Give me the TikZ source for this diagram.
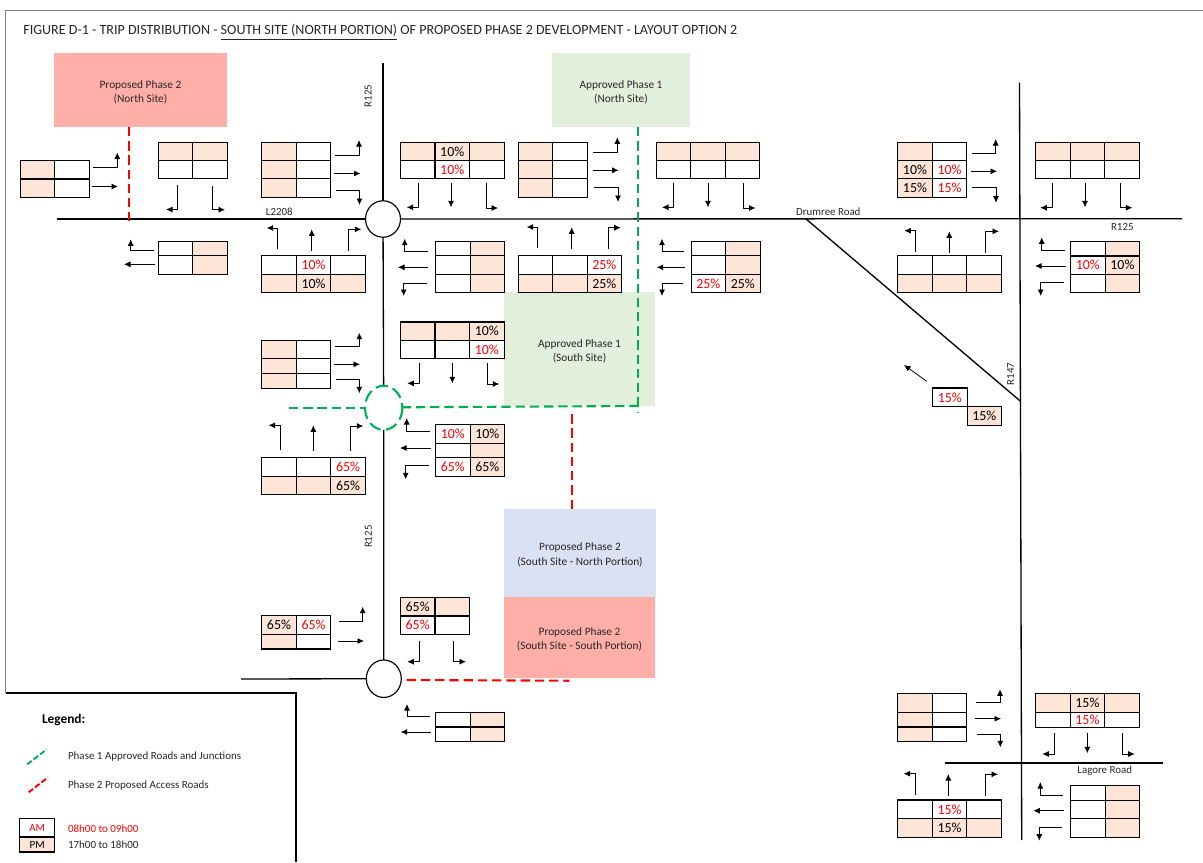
\documentclass[tikz,border=0pt]{standalone}
\usepackage{fontspec}
\setmainfont{Carlito}
\usetikzlibrary{arrows.meta,shapes.geometric}
\definecolor{pmfill}{HTML}{FCE4D6}
\definecolor{sitered}{HTML}{FFAFA8}
\definecolor{sitegreen}{HTML}{E2EFDA}
\definecolor{siteblue}{HTML}{D9E1F2}
\definecolor{greenroad}{HTML}{00B050}
\tikzset{
  am/.style={fill=white,text=red},
  pm/.style={fill=pmfill,text=black},
  tripcell/.style={draw,line width=0.6pt,inner sep=0pt,outer sep=0pt,minimum width=0.69cm,font=\fontsize{7.9}{9}\selectfont},
  sitebox/.style={inner sep=0pt,outer sep=0pt,align=center,text=black!85,font=\fontsize{6.45}{8}\selectfont},
  roadname/.style={inner sep=0pt,text=black!85,font=\fontsize{6.2}{7}\selectfont},
  legendtext/.style={inner sep=0pt,anchor=west,text=black!85,font=\fontsize{6.25}{7}\selectfont},
  road/.style={line width=0.75pt,black},
  junction/.style={draw,ellipse,inner sep=0pt,outer sep=0pt,line width=0.65pt,fill=white},
  arr/.style={line width=0.45pt,-{Latex[length=1.3mm,width=1.2mm]}},
  greenline/.style={line width=1.2pt,greenroad,dash pattern=on 5.3pt off 2.8pt},
  redline/.style={line width=1.2pt,red,dash pattern=on 5.3pt off 2.8pt}
}
% one row of a table: name, left, top, bottom, kind/label list
\newcommand{\triprow}[5]{%
  \foreach \k/\lab [count=\c] in {#5}
    \node[tripcell,\k,minimum height={(#4-#3)*0.02cm}] (#1-\c) at ({#2+(\c-0.5)*34.55},{(#3+#4)/2}) {\lab};
}
% two lines of a site label, set a little low in its box
\newcommand{\sitelines}[2]{\rule{0pt}{6.8pt}#1\\#2}
\begin{document}
\begin{tikzpicture}[x=0.02cm,y=-0.02cm]
\useasboundingbox (0,0) rectangle (1203,862);
\draw[black!50,line width=0.5pt] (1203,10) -- (5.5,10) -- (5.5,693);
\node[anchor=west,inner sep=0pt,text=black!85,font=\fontsize{8}{9}\selectfont] (title) at (23,32.5) {FIGURE D-1 - TRIP DISTRIBUTION - \underline{SOUTH SITE (NORTH PORTION)} OF PROPOSED PHASE 2 DEVELOPMENT - LAYOUT OPTION 2};

% sites
\node[sitebox,fill=sitered,minimum width=3.46cm,minimum height=1.48cm] (siteNorthP2) at (140.5,90) {\sitelines{Proposed Phase 2}{(North Site)}};
\node[sitebox,fill=sitegreen,minimum width=2.76cm,minimum height=1.48cm] (siteNorthP1) at (621,90) {\sitelines{Approved Phase 1}{(North Site)}};
\node[sitebox,fill=sitegreen,minimum width=3.02cm,minimum height=2.27cm] (siteSouthP1) at (579.5,349.2) {\sitelines{Approved Phase 1}{(South Site)}};
\node[sitebox,fill=siteblue,minimum width=3.04cm,minimum height=1.756cm] (siteSouthN) at (580,552.8) {\sitelines{Proposed Phase 2}{(South Site - North Portion)}};
\node[sitebox,fill=sitered,minimum width=3.02cm,minimum height=1.62cm] (siteSouthS) at (579.5,637.2) {\sitelines{Proposed Phase 2}{(South Site - South Portion)}};

% roads
\node[junction,minimum width=0.7cm,minimum height=0.73cm] (jnNorth) at (383,219) {};
\node[minimum width=0.75cm,minimum height=0.88cm,inner sep=0pt,outer sep=0pt,ellipse] (jnMid) at (383.7,407.8) {};
\node[junction,minimum width=0.7cm,minimum height=0.75cm] (jnSouth) at (383.8,678.7) {};
\coordinate (r125top) at (383,63);
\coordinate (l2208end) at (57,219);
\coordinate (drumreeEnd) at (1182,218.7);
\coordinate (southRoadEnd) at (241,679);
\coordinate (diagStart) at (805.7,218.7);
\coordinate (r147top) at (1019.5,82.5);
\coordinate (r147bottom) at (1021.7,840);
\coordinate (diagEnd) at (1020.2,401);
\draw[road] (r125top) -- (jnNorth);
\draw[road] (jnNorth) -- (jnMid);
\draw[road] (jnMid) -- (jnSouth);
\draw[road] (l2208end) -- (jnNorth);
\draw[road] (jnNorth) -- (drumreeEnd);
\draw[road] (southRoadEnd) -- (jnSouth);
\draw[road] (diagStart) -- (diagEnd);
\draw[road] (r147top) -- (r147bottom);
\draw[road] (945,763) -- (1162.7,763);

% access roads
\coordinate (greenWest) at (289,407.7);
\coordinate (greenCorner) at (638.3,406);
\draw[greenline,dash pattern=on 7pt off 3pt] (383.7,407.8) ellipse [x radius=18.7,y radius=22];
\draw[greenline] (greenWest) -- (365,407.7);
\draw[greenline] (401.7,407.3) -- (greenCorner);
\draw[greenline] (siteNorthP1.south -| greenCorner) -- (638.3,412);
\draw[redline] (siteNorthP2.south -| 128.7,0) -- (128.7,220.7);
\draw[redline] (siteSouthN.north -| 571.7,0) -- (571.7,409.5);
\draw[redline] (406.7,680) -- (569.3,680.7);

% tables
\triprow{tA1}{20}{160.7}{179}{pm/,am/}
\triprow{tA2}{20}{179}{197.3}{pm/,am/}
\triprow{tB1}{158.3}{142.3}{160.5}{pm/,pm/}
\triprow{tB2}{158.3}{160.5}{178.7}{am/,am/}
\triprow{tC1}{261.7}{142.3}{160.5}{pm/,am/}
\triprow{tC2}{261.7}{160.5}{178.7}{pm/,am/}
\triprow{tC3}{261.7}{178.7}{197.3}{pm/,am/}
\triprow{tD1}{158.3}{241.7}{255.7}{am/,pm/}
\triprow{tD2}{158.3}{255.7}{274.3}{am/,pm/}
\triprow{tE1}{261.7}{255.7}{274.2}{am/,am/10\%,am/}
\triprow{tE2}{261.7}{274.2}{292.7}{pm/,pm/10\%,pm/}
\triprow{tF1}{400.4}{142.2}{160.5}{pm/,pm/10\%,pm/}
\triprow{tF2}{400.4}{160.5}{178.7}{am/,am/10\%,am/}
\triprow{tG1}{518}{142.3}{160.5}{pm/,am/}
\triprow{tG2}{518}{160.5}{178.7}{pm/,am/}
\triprow{tG3}{518}{178.7}{197.3}{pm/,am/}
\triprow{tH1}{656}{142.2}{160.5}{pm/,pm/,pm/}
\triprow{tH2}{656}{160.5}{178.7}{am/,am/,am/}
\triprow{tI1}{435.5}{241.3}{255.7}{am/,pm/}
\triprow{tI2}{435.5}{255.7}{274.3}{am/,pm/}
\triprow{tI3}{435.5}{274.3}{292.7}{am/,pm/}
\triprow{tJ1}{518}{255.7}{274.2}{am/,am/,am/25\%}
\triprow{tJ2}{518}{274.2}{292.7}{pm/,pm/,pm/25\%}
\triprow{tK1}{691}{241.3}{255.7}{am/,pm/}
\triprow{tK2}{691}{255.7}{274.3}{am/,pm/}
\triprow{tK3}{691}{274.3}{292.7}{am/25\%,pm/25\%}
\triprow{tL1}{261.7}{340.3}{358.7}{pm/,am/}
\triprow{tL2}{261.7}{358.7}{373.3}{pm/,am/}
\triprow{tL3}{261.7}{373.3}{388.3}{pm/,am/}
\triprow{tM1}{400.4}{322}{340.3}{pm/,pm/,pm/10\%}
\triprow{tM2}{400.4}{340.3}{358.7}{am/,am/,am/10\%}
\triprow{tN1}{261.7}{457.7}{476.3}{am/,am/,am/65\%}
\triprow{tN2}{261.7}{476.3}{494.7}{pm/,pm/,pm/65\%}
\triprow{tO1}{435.5}{424.7}{443.3}{am/10\%,pm/10\%}
\triprow{tO2}{435.5}{443.3}{457.7}{am/,pm/}
\triprow{tO3}{435.5}{457.7}{476.3}{am/65\%,pm/65\%}
\triprow{tP1}{261.7}{615.7}{634.3}{pm/65\%,am/65\%}
\triprow{tP2}{261.7}{634.3}{649}{pm/,am/}
\triprow{tQ1}{400.4}{597.3}{616}{pm/65\%,pm/}
\triprow{tQ2}{400.4}{616}{634.3}{am/65\%,am/}
\triprow{tR1}{435.5}{712.3}{727}{am/,pm/}
\triprow{tR2}{435.5}{727}{741.5}{am/,pm/}
\triprow{tS1}{897.7}{142.3}{160.3}{pm/,am/}
\triprow{tS2}{897.7}{160.3}{178.7}{pm/10\%,am/10\%}
\triprow{tS3}{897.7}{178.7}{197.3}{pm/15\%,am/15\%}
\triprow{tT1}{1035.6}{142.2}{160.3}{pm/,pm/,pm/}
\triprow{tT2}{1035.6}{160.3}{178.7}{am/,am/,am/}
\triprow{tU1}{897.7}{255.7}{274.2}{am/,am/,am/}
\triprow{tU2}{897.7}{274.2}{292.4}{pm/,pm/,pm/}
\triprow{tV1}{1070.6}{241.3}{256}{am/,pm/}
\triprow{tV2}{1070.6}{256}{274.3}{am/10\%,pm/10\%}
\triprow{tV3}{1070.6}{274.3}{292.4}{am/,pm/}
\triprow{tW1}{932.5}{388}{406.7}{am/15\%}
\triprow{tW2}{967}{406.7}{425.3}{pm/15\%}
\triprow{tX1}{897.7}{693.3}{712.3}{pm/,am/}
\triprow{tX2}{897.7}{712.3}{727}{pm/,am/}
\triprow{tX3}{897.7}{727}{741.3}{pm/,am/}
\triprow{tY1}{1035.6}{693.3}{712.3}{pm/,pm/15\%,pm/}
\triprow{tY2}{1035.6}{712.3}{727.3}{am/,am/15\%,am/}
\triprow{tZ1}{897.7}{800}{818.7}{am/,am/15\%,am/}
\triprow{tZ2}{897.7}{818.7}{837.3}{pm/,pm/15\%,pm/}
\triprow{tAA1}{1070.6}{785.7}{800.3}{am/,pm/}
\triprow{tAA2}{1070.6}{800.3}{818.7}{am/,pm/}
\triprow{tAA3}{1070.6}{818.7}{837.3}{am/,pm/}

% straight arrows
\foreach \xa/\ya/\xb/\yb in {92/186.5/118/186.5,334/173.5/360.5/173.5,154.7/264.3/124/264.3,311.7/250.7/311.7/229.3,
  451/183.3/451/207.3,592.7/170.3/618.7/170.3,708/183.3/708/207.3,428.3/267.3/398/267.3,571.7/248.7/571.7/227.3,
  684.5/267.3/656.7/267.3,334.3/364.3/360/364.3,452.3/363/452.3/383.3,313.3/450.7/313.3/425.3,430.7/448/400/448,
  338/641/364/641,431/732/400.7/732,971/171.3/997/171.3,1085/183.3/1085/207.3,949.3/252.7/949.3/231.3,
  1065.7/266/1035/266,926.7/381.3/904/365,975/718.7/1001/718.7,1087.3/733.3/1087.3/753.3,948.3/795.7/948.3/774,
  1063.7/810.7/1033.3/810.7}
  \draw[arr] (\xa,\ya) -- (\xb,\yb);
% arrows leaving sideways, turning up or down
\foreach \xa/\ya/\xb/\yb in {93/167/117.3/152.5,335/155/359/140,336/190/359.5/205,154/250.3/130.7/239.3,
  593.3/152.3/617.3/137.3,594/187.3/618/202,427.7/251.3/404.7/238.7,426.7/283.3/403.7/296,684/251.3/662/238.7,
  683/283.3/662/296,335/346.7/359.3/332.7,336/379.3/359.3/393.3,430/431/406.7/418,429/465.7/405.7/479.3,
  339/621/362.7/606.7,430.3/716.7/407/704,971.7/153/995.7/139,972.3/187.7/996/202.7,1064.7/250/1041.7/237.3,
  1064/282.3/1040.7/296,976/702.7/1000/689.3,976.7/734/1000.3/747.3,1063/795.3/1040.3/782,1062.3/827.3/1039.3/840.7}
  \draw[arr] (\xa,\ya) -| (\xb,\yb);
% arrows leaving up or down, turning sideways
\foreach \xa/\ya/\xb/\yb in {177/185.3/166/209.5,212/185.5/225/209.7,277.7/249.3/266.7/228,348/250.7/361.3/229.3,
  418/183.3/406.7/207.3,486/183.3/498/208,673.5/183.3/662/207.3,743.5/183.3/755.5/208,537.7/248.3/526.7/227,
  608/248.7/620.7/227.7,419.3/363/407.3/383.3,487.7/363/499.3/384,280/450/268.7/425.3,350.3/450.7/363.3/426,
  419.3/640.7/407.3/661.7,453.3/640.7/466/661.7,1052.3/183.3/1040.3/207.7,1120.3/183.3/1132.3/207.7,
  915.7/252/904.3/230.7,985.7/252.7/999/231.3,1054.3/733.3/1042.3/754,1122.3/733.3/1134.7/754,
  915/795/903.7/773.7,985.3/795.7/998/774.3}
  \draw[arr] (\xa,\ya) |- (\xb,\yb);

% road names
\node[roadname,rotate=90] (nameR125a) at (368,96) {R125};
\node[roadname,rotate=90] (nameR125b) at (368.3,536.7) {R125};
\node[roadname,rotate=90] (nameR147) at (1010.7,374) {R147};
\node[roadname] (nameL2208) at (279.3,211.7) {L2208};
\node[roadname] (nameDrumree) at (828.3,211.7) {Drumree Road};
\node[roadname] (nameR125c) at (1122.3,226.7) {R125};
\node[roadname] (nameLagore) at (1104.7,770.7) {Lagore Road};

% legend
\draw[line width=1pt] (6,693.3) -- (296,693.3) -- (296,862);
\node[anchor=west,inner sep=0pt,font=\fontsize{7.6}{9}\selectfont\bfseries] (legendTitle) at (41.7,719.7) {Legend:};
\draw[greenline,dash pattern=on 3.2pt off 1.4pt,line width=1.1pt] (27.3,764.3) -- (46.7,749.3);
\draw[redline,dash pattern=on 3.2pt off 1.4pt,line width=1.1pt] (28.7,792.3) -- (48,777.3);
\node[legendtext] (legendP1) at (67.7,756.7) {Phase 1 Approved Roads and Junctions};
\node[legendtext] (legendP2) at (67.7,785.7) {Phase 2 Proposed Access Roads};
\node[tripcell,am,font=\fontsize{6.25}{7}\selectfont,minimum height=0.37cm] (legendAM) at (37.2,827.7) {AM};
\node[tripcell,pm,font=\fontsize{6.25}{7}\selectfont,minimum height=0.3cm] (legendPM) at (37.2,844.5) {PM};
\node[legendtext,text=red] (legendAMtime) at (67.7,828.7) {08h00 to 09h00};
\node[legendtext] (legendPMtime) at (67.7,844.7) {17h00 to 18h00};
\end{tikzpicture}
\end{document}
